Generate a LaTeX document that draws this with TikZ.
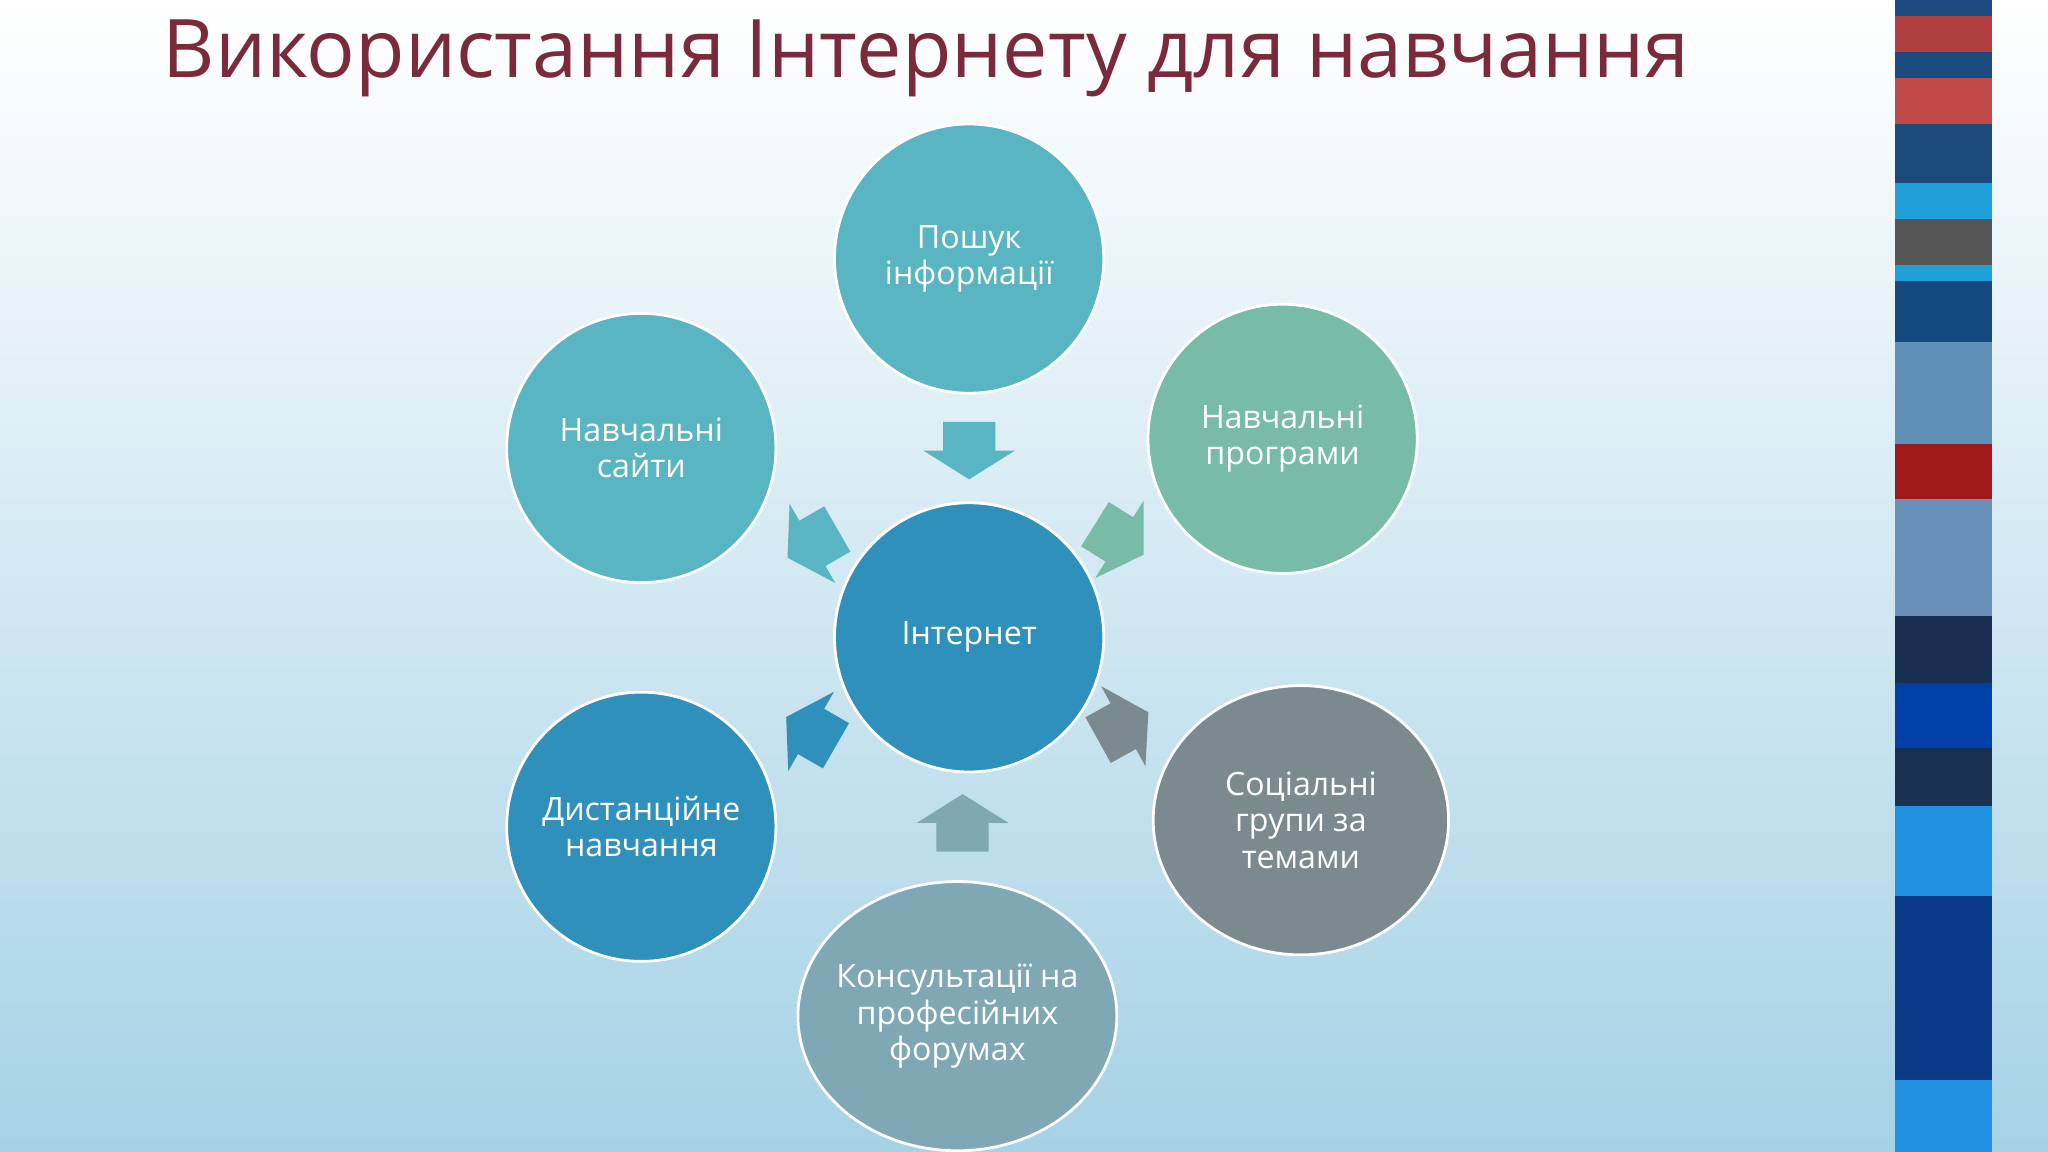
\documentclass[tikz,border=0pt]{standalone}
\usepackage{fontspec}
\setmainfont{Open Sans}
\usetikzlibrary{shapes.geometric}
\definecolor{cA}{HTML}{5AB5C2}
\definecolor{cB}{HTML}{78BCA8}
\definecolor{cC}{HTML}{7A8A90}
\definecolor{cD}{HTML}{80A8B4}
\definecolor{cE}{HTML}{3090BC}
\definecolor{tit}{HTML}{7A2A3A}
\begin{document}
\begin{tikzpicture}[x=0.01cm,y=-0.01cm,
  circ/.style={ellipse,draw=white,line width=0.6pt,inner sep=0pt},
  lbl/.style={text=white,align=center,font=\fontsize{7}{7.9}\selectfont},
  arr/.pic={\fill[pic actions] (-22,-20) -- (0,-20) -- (0,-35) -- (22,0) -- (0,35) -- (0,20) -- (-22,20) -- cycle;}]
\useasboundingbox (0,0) rectangle (1568,882);
\shade[top color=white,bottom color={rgb,255:red,166;green,210;blue,230}] (0,0) rectangle (1568,882);
% right bar
\foreach \a/\b/\c in {0/12/1A4A80,12/40/B04040,40/60/1A4A80,60/95/C04848,95/140/1A4A7A,140/168/20A0D8,168/203/555555,203/215/20A0D8,215/262/154A80,262/340/6090B8,340/382/A01818,382/472/6890B8,472/523/1A2E50,523/573/0040A8,573/617/1A3050,617/686/2090E0,686/827/0A3A88,827/882/2090E0}
  {\definecolor{barc}{HTML}{\c}\fill[barc] (1451,\a) rectangle (1525,\b);}
\node[text=tit,font=\fontsize{17.6}{20}\selectfont,anchor=west,inner sep=0pt] (title) at (124,45) {Використання Інтернету для навчання};
% circles
\node[circ,fill=cE,minimum width=2.06cm,minimum height=2.06cm] (c) at (742,488) {};
\node[circ,fill=cA,minimum width=2.06cm,minimum height=2.06cm] (n1) at (742,198) {};
\node[circ,fill=cB,minimum width=2.06cm,minimum height=2.06cm] (n2) at (982,336) {};
\node[circ,fill=cC,minimum width=2.26cm,minimum height=2.06cm] (n3) at (996,628) {};
\node[circ,fill=cD,minimum width=2.44cm,minimum height=2.06cm] (n4) at (733,778) {};
\node[circ,fill=cE,minimum width=2.06cm,minimum height=2.06cm] (n5) at (491,633) {};
\node[circ,fill=cA,minimum width=2.06cm,minimum height=2.06cm] (n6) at (491,343) {};
\node[lbl] (t0) at (c) {Інтернет};
\node[lbl] (t1) at (n1) {Пошук\\інформації};
\node[lbl] (t2) at (n2) {Навчальні\\програми};
\node[lbl] (t3) at (n3) {Соціальні\\групи за\\темами};
\node[lbl] (t4) at (n4) {Консультації на\\професійних\\форумах};
\node[lbl] (t5) at (n5) {Дистанційне\\навчання};
\node[lbl] (t6) at (n6) {Навчальні\\сайти};
% arrows (y axis points down, so angles are mirrored)
\pic[fill=cA,rotate=-90] (a1) at (742,345) {arr};
\pic[fill=cB,rotate=-32] (a2) at (857,413) {arr};
\pic[fill=cC,rotate=29] (a3) at (860,556) {arr};
\pic[fill=cD,rotate=90] (a4) at (737,630) {arr};
\pic[fill=cE,rotate=150] (a5) at (621,560) {arr};
\pic[fill=cA,rotate=210] (a6) at (622,416) {arr};
\end{tikzpicture}
\end{document}
